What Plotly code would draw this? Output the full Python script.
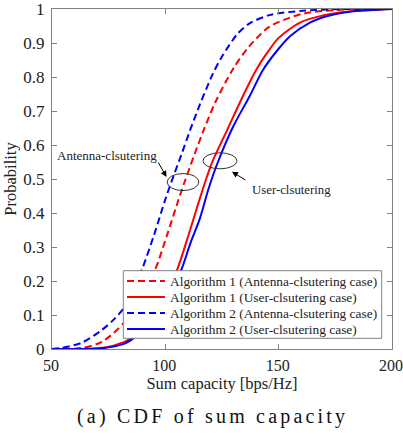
import plotly.graph_objects as go

# Algorithm 2 (Antenna-clustering) - blue dashed
x_a2_ant = [50, 54, 63, 72, 77, 81.6, 85.5, 89.6, 95, 100, 103.4, 107, 111, 115.3, 121, 125, 131.6, 137, 146, 160.7, 180, 200]
p_a2_ant = [0, 0.003, 0.018, 0.056, 0.085, 0.12, 0.17, 0.232, 0.335, 0.44, 0.505, 0.57, 0.645, 0.72, 0.81, 0.86, 0.925, 0.957, 0.982, 0.995, 1.0, 1.0]

# Algorithm 1 (Antenna-clustering) - red dashed
x_a1_ant = [50, 63, 72, 81.6, 88, 95.4, 101, 106.5, 108.7, 113, 117, 122, 130, 137, 146, 160, 180, 200]
p_a1_ant = [0, 0.003, 0.021, 0.076, 0.14, 0.232, 0.34, 0.453, 0.495, 0.575, 0.645, 0.725, 0.825, 0.89, 0.948, 0.985, 0.999, 1.0]

# Algorithm 1 (User-clustering) - red solid
x_a1_usr = [50, 72, 82, 86, 90, 95, 100, 105.6, 110, 114.4, 118, 121, 127, 134.3, 140, 144.8, 150, 159.4, 170, 181, 200]
p_a1_usr = [0, 0.003, 0.021, 0.037, 0.06, 0.1, 0.15, 0.24, 0.33, 0.425, 0.5, 0.555, 0.64, 0.745, 0.82, 0.87, 0.915, 0.96, 0.982, 0.993, 1.0]

# Algorithm 2 (User-clustering) - blue solid
x_a2_usr = [50, 72, 82, 86, 90, 95, 100, 107, 111, 115.3, 119, 123.2, 130, 137.3, 143, 149, 155, 163.8, 172, 183, 200]
p_a2_usr = [0, 0.002, 0.016, 0.032, 0.055, 0.09, 0.135, 0.232, 0.31, 0.385, 0.47, 0.55, 0.655, 0.745, 0.82, 0.875, 0.92, 0.96, 0.98, 0.993, 1.0]

x_ticks = [50, 100, 150, 200]
y_ticks = [0, 0.1, 0.2, 0.3, 0.4, 0.5, 0.6, 0.7, 0.8, 0.9, 1]
y_tick_text = ["0", "0.1", "0.2", "0.3", "0.4", "0.5", "0.6", "0.7", "0.8", "0.9", "1"]

FONT = "Liberation Serif"
TXT = "#222222"

# plot area in pixels (for paper-coordinate conversions of decorations)
L, R, T, B = 52, 392, 9, 349
def px(xp):
    return (xp - L) / (R - L)
def py(yp):
    return (B - yp) / (B - T)

fig = go.Figure()
series = [
    (x_a1_ant, p_a1_ant, "Algorithm 1 (Antenna-clsutering case)", "#ff0000", "dash"),
    (x_a1_usr, p_a1_usr, "Algorithm 1 (User-clsutering case)", "#ff0000", "solid"),
    (x_a2_ant, p_a2_ant, "Algorithm 2 (Antenna-clsutering case)", "#0000ff", "dash"),
    (x_a2_usr, p_a2_usr, "Algorithm 2 (User-clsutering case)", "#0000ff", "solid"),
]
DASH = "7px,4px"
for xs, ys, name, col, dash in series:
    fig.add_trace(go.Scatter(
        x=xs, y=ys, mode="lines", name=name, showlegend=False,
        line=dict(color=col, width=2, dash=DASH if dash == "dash" else "solid", shape="spline", smoothing=0.8),
    ))

# ellipses
fig.add_shape(type="circle", xref="x", yref="y", x0=100.8, x1=114.8, y0=0.466, y1=0.516,
              line=dict(color="#333333", width=1))
fig.add_shape(type="circle", xref="x", yref="y", x0=116.6, x1=131.6, y0=0.53, y1=0.577,
              line=dict(color="#333333", width=1))

# labels
fig.add_annotation(x=74.3, y=0.57, xref="x", yref="y", text="Antenna-clsutering", showarrow=False,
                   font=dict(family=FONT, size=13, color=TXT))
fig.add_annotation(x=155.6, y=0.468, xref="x", yref="y", text="User-clsutering", showarrow=False,
                   font=dict(family=FONT, size=12.8, color=TXT))
# arrows
fig.add_annotation(x=100.5, y=0.506, xref="x", yref="y", text="", showarrow=True, arrowhead=2,
                   arrowsize=1.2, arrowwidth=1, arrowcolor="#000000", ax=-9, ay=-16)
fig.add_annotation(x=129.4, y=0.521, xref="x", yref="y", text="", showarrow=True, arrowhead=2,
                   arrowsize=1.2, arrowwidth=1, arrowcolor="#000000", ax=15, ay=9)

# legend (drawn manually to match the compact reference layout)
fig.add_shape(type="rect", xref="paper", yref="paper", x0=px(123.3), x1=px(381.7), y0=py(338.3), y1=py(270.7),
              line=dict(color="#808080", width=1), fillcolor="white", layer="above")
rows = [281, 297, 313, 329]
for (xs, ys, name, col, dash), yr in zip(series, rows):
    fig.add_shape(type="line", xref="paper", yref="paper", x0=px(127), x1=px(165), y0=py(yr), y1=py(yr),
                  line=dict(color=col, width=2, dash="7px,4px" if dash == "dash" else "solid"), layer="above")
    fig.add_annotation(x=px(167.5), y=py(yr), xref="paper", yref="paper", text=name, showarrow=False,
                       xanchor="left", yanchor="middle", font=dict(family=FONT, size=13.4, color=TXT))

# caption
fig.add_annotation(x=0.5, y=0, xref="paper", yref="paper",
                   text='<span style="letter-spacing:3.2px">(a) CDF of sum capacity</span>',
                   showarrow=False, yshift=-67, xshift=-10, yanchor="middle",
                   font=dict(family=FONT, size=20, color="#111111"))

axis_common = dict(showline=True, linecolor="#808080", linewidth=1, mirror="ticks",
                   ticks="inside", ticklen=5, tickcolor="#808080", showgrid=False, zeroline=False,
                   ticklabeloverflow="allow", automargin=False)
fig.update_xaxes(range=[50, 200], tickvals=x_ticks, ticklabelshift=-1, ticklabelstandoff=2,
                 tickfont=dict(family=FONT, size=16, color=TXT),
                 title=dict(text="Sum capacity [bps/Hz]", standoff=1,
                            font=dict(family=FONT, size=16.5, color=TXT)), **axis_common)
fig.update_yaxes(range=[0, 1], tickvals=y_ticks, ticktext=y_tick_text, ticklabelstandoff=3,
                 tickfont=dict(family=FONT, size=17, color=TXT),
                 title=dict(text="Probability", standoff=2, font=dict(family=FONT, size=16.5, color=TXT)),
                 **axis_common)

fig.update_layout(
    width=403, height=434,
    margin=dict(l=L, r=403 - R, t=T, b=434 - B),
    paper_bgcolor="white", plot_bgcolor="white",
    showlegend=False,
    font=dict(family=FONT),
)

fig.write_html("out.html")
